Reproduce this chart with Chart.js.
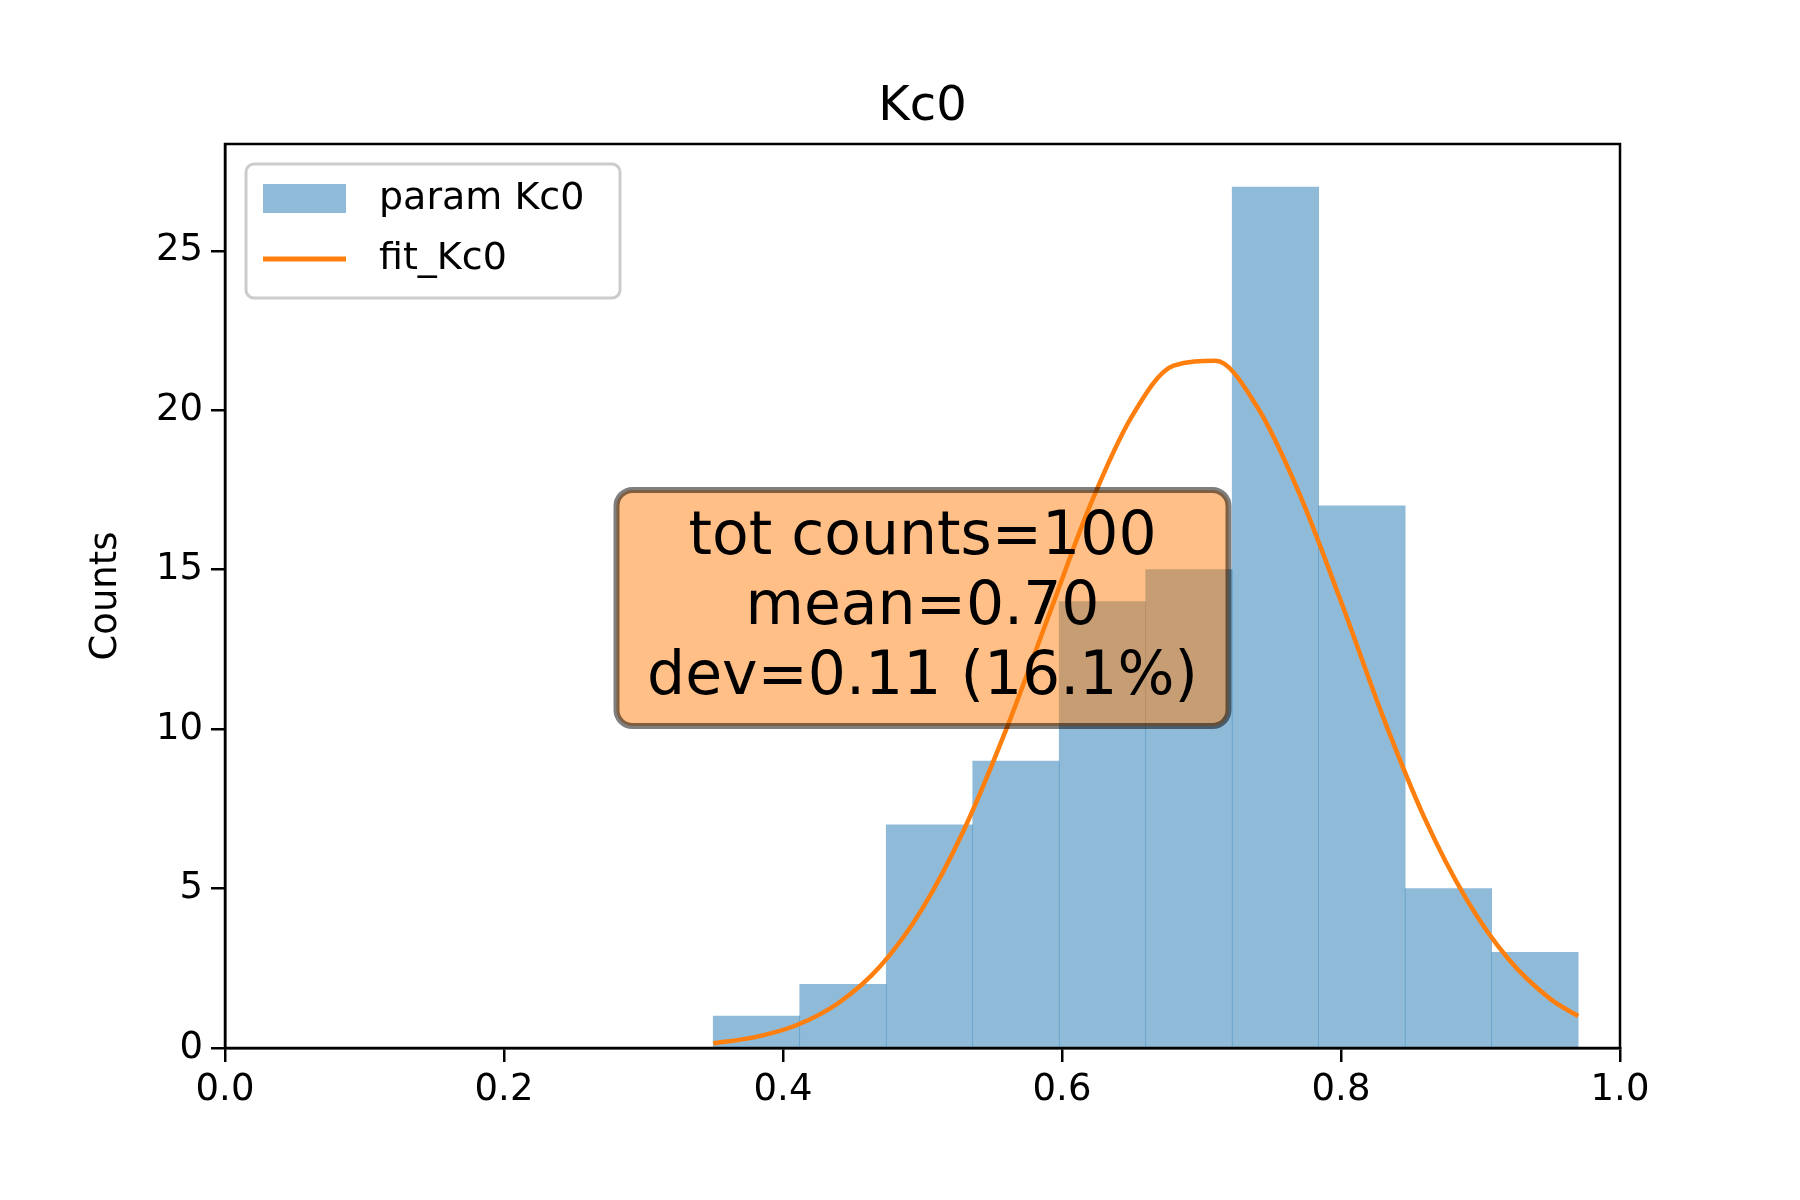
<!DOCTYPE html>
<html>
<head>
<meta charset="utf-8">
<script src="https://cdn.jsdelivr.net/npm/chart.js@4"></script>
<style>body{margin:0;background:#fff}</style>
</head>
<body>
<canvas id="chart" width="1800" height="1200"></canvas>
<script>
// histogram bins (centers) and counts
const binCenters = [0.381, 0.443, 0.505, 0.567, 0.629, 0.691, 0.753, 0.815, 0.877, 0.939];
const binCounts = [1, 2, 7, 9, 14, 15, 27, 17, 5, 3];
// fit curve points
const fitX = [0.35, 0.38, 0.41, 0.44, 0.47, 0.50, 0.53, 0.56, 0.59, 0.62, 0.65, 0.68, 0.71, 0.74, 0.77, 0.80, 0.83, 0.86, 0.89, 0.92, 0.95, 0.97];
const fitY = [0.15, 0.34, 0.72, 1.42, 2.58, 4.38, 6.87, 9.99, 13.5, 17.0, 19.8, 21.4, 21.55, 20.1, 17.4, 14.0, 10.4, 7.2, 4.66, 2.79, 1.54, 1.0];
const statLines = ['tot counts=100', 'mean=0.70', 'dev=0.11 (16.1%)'];

const FONT = 'DejaVu Sans';
Chart.defaults.font.family = FONT;
Chart.defaults.color = '#000';

const decor = {
    id: 'decor',
    afterDatasetsDraw(chart) {
        const { ctx, chartArea: a, scales } = chart;
        ctx.save();
        // frame
        ctx.strokeStyle = '#000';
        ctx.lineWidth = 2.5;
        ctx.strokeRect(a.left, a.top, a.right - a.left, a.bottom - a.top);
        // title
        ctx.font = '48px ' + FONT;
        ctx.textAlign = 'center';
        ctx.textBaseline = 'alphabetic';
        ctx.fillStyle = '#000';
        ctx.fillText('Kc0', (a.left + a.right) / 2, a.top - 24);
        // stats box
        const cx = scales.x.getPixelForValue(0.5);
        const cy = scales.y.getPixelForValue(13.8);
        const w = 612, h = 236, r = 16;
        ctx.beginPath();
        ctx.roundRect(cx - w / 2, cy - h / 2, w, h, r);
        ctx.fillStyle = 'rgba(255,127,14,0.5)';
        ctx.fill();
        ctx.strokeStyle = 'rgba(0,0,0,0.5)';
        ctx.lineWidth = 6;
        ctx.stroke();
        ctx.fillStyle = '#000';
        ctx.font = '60px ' + FONT;
        ctx.textBaseline = 'middle';
        statLines.forEach((t, i) => ctx.fillText(t, cx, cy + (i - 1) * 70));
        // legend
        const lx = a.left + 21, ly = a.top + 20;
        ctx.beginPath();
        ctx.roundRect(lx, ly, 374, 134, 8);
        ctx.fillStyle = 'rgba(255,255,255,0.8)';
        ctx.fill();
        ctx.strokeStyle = '#ccc';
        ctx.lineWidth = 3;
        ctx.stroke();
        ctx.fillStyle = 'rgba(31,119,180,0.5)';
        ctx.fillRect(lx + 17, ly + 20, 83, 29);
        ctx.strokeStyle = '#ff7f0e';
        ctx.lineWidth = 5;
        ctx.beginPath();
        ctx.moveTo(lx + 17, ly + 95);
        ctx.lineTo(lx + 100, ly + 95);
        ctx.stroke();
        ctx.fillStyle = '#000';
        ctx.font = '38px ' + FONT;
        ctx.textAlign = 'left';
        ctx.fillText('param Kc0', lx + 133, ly + 35);
        ctx.fillText('fit_Kc0', lx + 133, ly + 95);
        ctx.restore();
    }
};

new Chart('chart', {
    data: {
        datasets: [
            {
                type: 'bar',
                data: binCenters.map((x, i) => ({ x, y: binCounts[i] })),
                backgroundColor: 'rgba(31,119,180,0.5)',
                borderWidth: 0,
                barPercentage: 1,
                categoryPercentage: 1,
                order: 2
            },
            {
                type: 'line',
                data: fitX.map((x, i) => ({ x, y: fitY[i] })),
                borderColor: '#ff7f0e',
                borderWidth: 4.5,
                pointRadius: 0,
                cubicInterpolationMode: 'monotone',
                fill: false,
                order: 1
            }
        ]
    },
    options: {
        responsive: false,
        devicePixelRatio: 1,
        animation: false,
        layout: { padding: { top: 144, right: 180, left: 80, bottom: 0 } },
        plugins: { legend: { display: false }, tooltip: { enabled: false } },
        scales: {
            x: {
                type: 'linear', min: 0, max: 1, offset: false,
                afterFit: s => { s.height = 152; },
                grid: { drawOnChartArea: false, offset: false, tickLength: 14, color: '#000', lineWidth: 2.5 },
                border: { color: '#000', width: 2.5 },
                ticks: { stepSize: 0.2, font: { size: 37 }, padding: 6, callback: v => v.toFixed(1) }
            },
            y: {
                min: 0, max: 28.35,
                afterFit: s => { s.width = 145; },
                afterBuildTicks: s => { s.ticks = [0, 5, 10, 15, 20, 25].map(v => ({ value: v })); },
                grid: { drawOnChartArea: false, tickLength: 14, color: '#000', lineWidth: 2.5 },
                border: { color: '#000', width: 2.5 },
                ticks: { font: { size: 37 }, padding: 8 },
                title: { display: true, text: 'Counts', font: { size: 37 }, padding: { bottom: 0 } }
            }
        }
    },
    plugins: [decor]
});
</script>
</body>
</html>
